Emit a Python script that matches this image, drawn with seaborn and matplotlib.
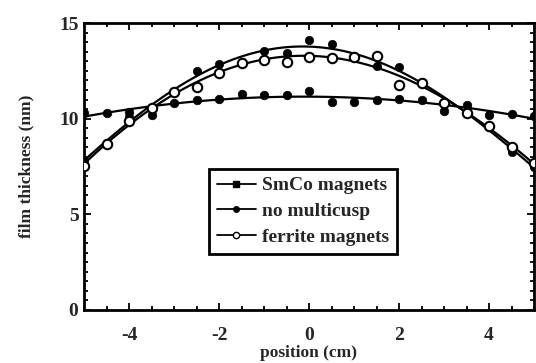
import numpy as np
import pandas as pd
import matplotlib
matplotlib.use("Agg")
import matplotlib.pyplot as plt
from matplotlib.lines import Line2D
from matplotlib.ticker import MultipleLocator
import seaborn as sns

# ---- data ----
position = [-5.0, -4.5, -4.0, -3.5, -3.0, -2.5, -2.0, -1.5, -1.0, -0.5, 0.0,
            0.5, 1.0, 1.5, 2.0, 2.5, 3.0, 3.5, 4.0, 4.5, 5.0]
smco = [10.31, 10.31, 10.37, 10.19, 10.80, 10.98, 11.03, 11.28, 11.25, 11.25, 11.43,
        10.89, 10.89, 10.98, 11.03, 10.98, 10.40, 10.72, 10.19, 10.25, 10.15]
no_multicusp = [7.80, 8.75, 10.10, 10.50, 11.45, 12.49, 12.84, 12.98, 13.55, 13.45, 14.11,
                13.89, 13.30, 12.77, 12.72, 11.90, 10.85, 10.40, 9.55, 8.27, 7.50]
ferrite = [7.53, 8.68, 9.90, 10.54, 11.41, 11.67, 12.37, 12.93, 13.07, 12.98, 13.24,
           13.16, 13.24, 13.29, 11.76, 11.85, 10.80, 10.28, 9.62, 8.54, 7.70]
series_names = ["SmCo magnets", "no multicusp", "ferrite magnets"]
fit_order = [2, 4, 4]

df = pd.DataFrame({"position": position, "SmCo magnets": smco,
                   "no multicusp": no_multicusp, "ferrite magnets": ferrite})

sns.set_style("ticks")
plt.rcParams["font.family"] = ["Liberation Serif", "DejaVu Serif"]
plt.rcParams["font.weight"] = "bold"
plt.rcParams["axes.unicode_minus"] = False

fig = plt.figure(figsize=(5.36, 3.63), dpi=100)
ax = fig.add_axes([84 / 536, 1 - 310 / 363, 450 / 536, 287 / 363])

styles = {
    "SmCo magnets": dict(marker="s", s=38, facecolors="black", edgecolors="black",
                         linewidths=0.5, alpha=1),
    "no multicusp": dict(marker="o", s=36, facecolors="black", edgecolors="black",
                         linewidths=0.5, alpha=1),
    "ferrite magnets": dict(marker="o", s=46, facecolors="white", edgecolors="black",
                            linewidths=1.5, alpha=1),
}

for name, order in zip(series_names, fit_order):
    sns.regplot(data=df, x="position", y=name, order=order, ci=None, ax=ax,
                color="black",
                scatter_kws=dict(zorder=3, **styles[name]),
                line_kws=dict(color="black", lw=1.6, zorder=2))

ax.set_xlim(-5, 5)
ax.set_ylim(0, 15)
ax.xaxis.set_major_locator(MultipleLocator(2))
ax.xaxis.set_minor_locator(MultipleLocator(0.5))
ax.yaxis.set_major_locator(MultipleLocator(5))
ax.yaxis.set_minor_locator(MultipleLocator(0.5))
ax.tick_params(which="both", direction="in", top=True, right=True,
               color="black", width=1.3)
ax.tick_params(which="major", length=5, labelsize=14)
ax.tick_params(axis="x", which="major", pad=12)
ax.tick_params(axis="y", which="major", pad=4)
ax.tick_params(which="minor", length=3)
for sp in ax.spines.values():
    sp.set_visible(True)
    sp.set_linewidth(2)
    sp.set_color("black")

ax.set_xlabel("position (cm)", fontsize=12.5, fontweight="bold", labelpad=1)
ax.set_ylabel("film thickness (nm)", fontsize=12.5, fontweight="bold", labelpad=18)

handles = [
    Line2D([], [], color="black", lw=1.3, marker="s", markersize=4,
           markerfacecolor="black", markeredgecolor="black"),
    Line2D([], [], color="black", lw=1.3, marker="o", markersize=4,
           markerfacecolor="black", markeredgecolor="black"),
    Line2D([], [], color="black", lw=1.3, marker="o", markersize=4.5,
           markerfacecolor="white", markeredgecolor="black"),
]
leg = ax.legend(handles, series_names, loc="upper left",
                bbox_to_anchor=(125 / 450, (310 - 169) / 287),
                fontsize=14, frameon=True, fancybox=False, handlelength=2.0,
                handletextpad=0.35, labelspacing=0.42, borderpad=0.4,
                borderaxespad=0)
leg.get_frame().set_edgecolor("black")
leg.get_frame().set_linewidth(2)
leg.get_frame().set_alpha(1)

fig.savefig("out.png", dpi=100, facecolor="white")
